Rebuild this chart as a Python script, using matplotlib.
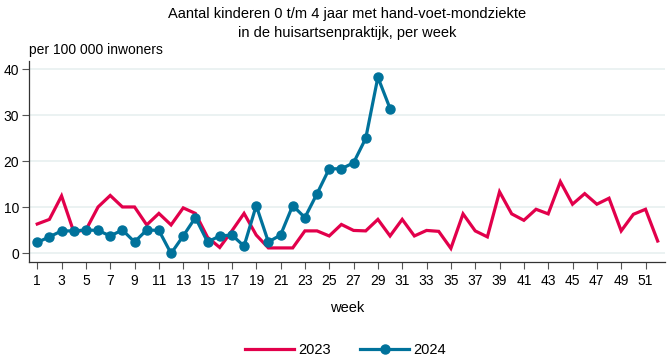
import matplotlib
matplotlib.use("Agg")
import matplotlib.pyplot as plt
from matplotlib.lines import Line2D

plt.rcParams['font.family'] = ['Liberation Sans', 'DejaVu Sans']

weeks_2023 = list(range(1, 53))
values_2023 = [6.4, 7.4, 12.5, 4.7, 5.1, 10.1, 12.6, 10.1, 10.1, 6.2,
               8.7, 6.2, 9.9, 8.7, 3.5, 1.3, 4.9, 8.7, 4.0, 1.2,
               1.2, 1.2, 4.9, 4.9, 3.8, 6.3, 5.0, 4.9, 7.4, 3.8,
               7.4, 3.8, 5.0, 4.8, 1.1, 8.6, 4.9, 3.6, 13.4, 8.6,
               7.2, 9.6, 8.6, 15.6, 10.7, 13.0, 10.7, 12.0, 4.9, 8.5,
               9.6, 2.7]
weeks_2024 = list(range(1, 31))
values_2024 = [2.4, 3.6, 4.9, 4.9, 5.1, 5.0, 3.8, 5.1, 2.5, 5.1,
               5.0, 0.0, 3.8, 7.8, 2.5, 3.8, 4.0, 1.6, 10.4, 2.5,
               4.0, 10.4, 7.8, 13.0, 18.4, 18.4, 19.7, 25.0, 38.3, 31.5]
xtick_labels = list(range(1, 53, 2))
yticks = [0, 10, 20, 30, 40]

red = '#e2004b'
blue = '#00729b'

fig = plt.figure(figsize=(6.69, 3.61), dpi=100)
ax = fig.add_axes([0.0433, 0.275, 0.9507, 0.557])

ax.plot(weeks_2023, values_2023, color=red, lw=2.3, solid_joinstyle='miter', zorder=3)
ax.plot(weeks_2024, values_2024, color=blue, lw=2.3, marker='o', markersize=6.5, zorder=4)

ax.set_xlim(0.32, 52.6)
ax.set_ylim(-1.8, 41.9)
ax.set_yticks(yticks)
ax.set_xticks(xtick_labels)
ax.set_xticklabels([str(x) for x in xtick_labels])
ax.tick_params(axis='both', labelsize=10, color='#555555', length=5, width=0.8)
ax.tick_params(axis='x', pad=4)
ax.tick_params(axis='y', pad=2)
ax.grid(axis='y', color='#e8f0f0', lw=1.2, zorder=0)
ax.set_axisbelow(True)
for s in ['top', 'right']:
    ax.spines[s].set_visible(False)
for s in ['left', 'bottom']:
    ax.spines[s].set_color('#333333')
    ax.spines[s].set_linewidth(0.9)

ax.set_xlabel('week', fontsize=10.5, labelpad=9)
fig.text(0.0433, 0.862, 'per 100 000 inwoners', fontsize=10, ha='left', va='center')
fig.text(0.519, 0.98, 'Aantal kinderen 0 t/m 4 jaar met hand-voet-mondziekte\nin de huisartsenpraktijk, per week',
         fontsize=10.5, ha='center', va='top', linespacing=1.45)

handles = [Line2D([], [], color=red, lw=2.3),
           Line2D([], [], color=blue, lw=2.3, marker='o', markersize=6.5)]
fig.legend(handles, ['2023', '2024'], loc='center', bbox_to_anchor=(0.516, 0.03),
           ncol=2, frameon=False, fontsize=10.5, handlelength=3.4, columnspacing=2.0,
           handletextpad=0.25)

fig.savefig('out.png', dpi=100)
